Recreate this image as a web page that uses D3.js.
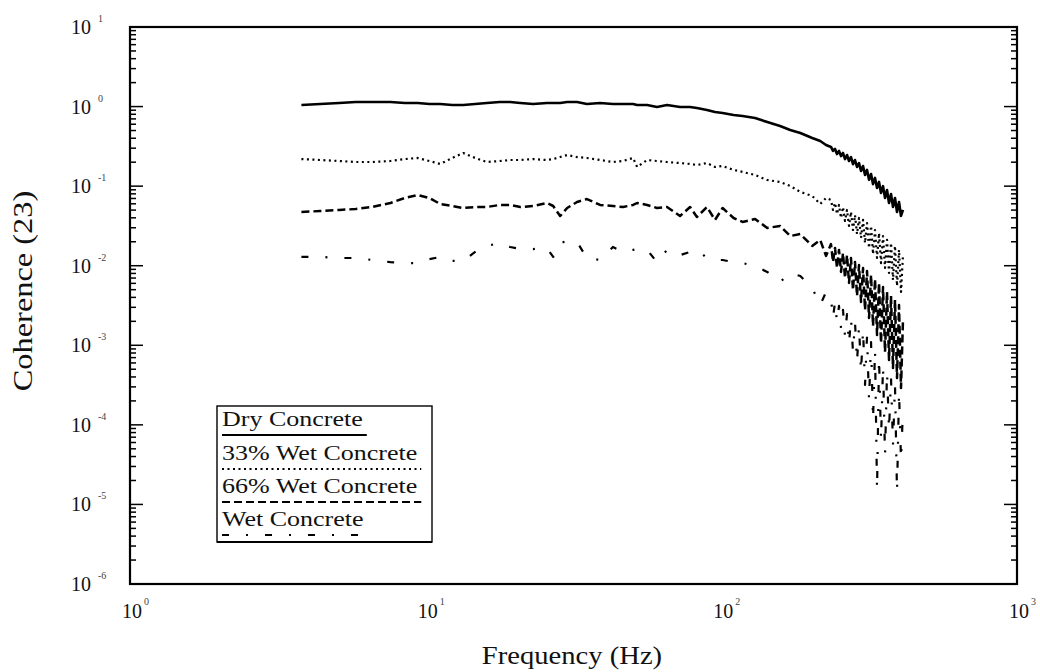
<!DOCTYPE html>
<html>
<head>
<meta charset="utf-8">
<script src="https://cdn.jsdelivr.net/npm/d3@7"></script>
<style>
  body { margin: 0; background: #fff; }
  svg { display: block; }
  text { font-family: "Liberation Serif", "DejaVu Serif", serif; fill: #111; }
</style>
</head>
<body>
<svg id="chart" width="1040" height="672"></svg>
<script>
// frequency (Hz) shared by all four curves
var freq = [3.8, 4.4, 5.1, 5.8, 6.6, 7.6, 8.5, 9.4, 10.3, 11.2, 12.3, 13.4, 14.7, 16.1, 17.8,
  19.3, 20.9, 23.1, 25.7, 27.0, 28.5, 30.1, 32.5, 35.1, 38.9, 43.0, 46.5, 50.3, 51.9, 56.1,
  60.6, 65.5, 72.5, 78.4, 82.7, 89.4, 95.2, 101, 110, 118, 130, 143, 158, 171, 185, 203, 216,
  226,
  // noisy tail
  234.9, 238.6, 242.4, 246.1, 250.0, 254.0, 257.9, 262.0, 266.1, 270.3, 274.5, 278.8, 283.2,
  287.7, 292.2, 296.8, 301.5, 306.2, 311.0, 315.9, 320.9, 325.9, 331.0, 336.2, 341.5, 346.8,
  352.3, 357.8, 363.4, 369.1, 374.9, 380.7, 386.7, 392.8, 399.0, 405.2, 411.5];

var dryConcrete = [1.047, 1.077, 1.109, 1.142, 1.142, 1.142, 1.109, 1.109, 1.077, 1.077,
  1.047, 1.047, 1.077, 1.109, 1.142, 1.142, 1.109, 1.077, 1.109, 1.109, 1.109, 1.142, 1.142,
  1.077, 1.109, 1.077, 1.077, 1.077, 1.047, 1.047, 0.988, 1.047, 0.988, 0.988, 0.960, 0.906,
  0.855, 0.830, 0.784, 0.761, 0.718, 0.640, 0.570, 0.508, 0.465, 0.403, 0.369, 0.329,
  0.311, 0.277, 0.293, 0.253, 0.277, 0.239, 0.261, 0.219, 0.246, 0.207, 0.232, 0.189, 0.213,
  0.174, 0.195, 0.155, 0.179, 0.138, 0.160, 0.120, 0.142, 0.106, 0.127, 0.0948, 0.113, 0.0820,
  0.100, 0.0710, 0.0895, 0.0615, 0.0797, 0.0547, 0.0710, 0.0474, 0.0632, 0.0422, 0.0502];

var wet33 = [0.219, 0.213, 0.207, 0.201, 0.201, 0.207, 0.219, 0.226, 0.207, 0.190, 0.226,
  0.261, 0.226, 0.201, 0.207, 0.213, 0.213, 0.219, 0.213, 0.219, 0.232, 0.246, 0.232, 0.226,
  0.213, 0.201, 0.207, 0.226, 0.174, 0.213, 0.207, 0.201, 0.195, 0.190, 0.184, 0.195, 0.174,
  0.179, 0.160, 0.151, 0.138, 0.1195, 0.1128, 0.1005, 0.0845, 0.0752, 0.0596, 0.0710,
  0.0670, 0.0502, 0.0615, 0.0447, 0.0580, 0.0398, 0.0547, 0.0365, 0.0502, 0.0316, 0.0474,
  0.0281, 0.0434, 0.0250, 0.0398, 0.0224, 0.0376, 0.0193, 0.0344, 0.0167, 0.0316, 0.0140,
  0.0281, 0.0125, 0.0257, 0.0108, 0.0236, 0.00937, 0.0211, 0.00811, 0.0193, 0.00662, 0.0177,
  0.00557, 0.0158, 0.00468, 0.0136];

var wet66 = [0.0473, 0.0487, 0.0502, 0.0516, 0.0547, 0.0614, 0.0710, 0.0774, 0.0710, 0.0596,
  0.0563, 0.0531, 0.0547, 0.0547, 0.0580, 0.0580, 0.0547, 0.0563, 0.0614, 0.0563, 0.0421,
  0.0531, 0.0632, 0.0689, 0.0580, 0.0563, 0.0547, 0.0580, 0.0614, 0.0580, 0.0531, 0.0547,
  0.0421, 0.0547, 0.0410, 0.0547, 0.0376, 0.0531, 0.0398, 0.0355, 0.0387, 0.0298, 0.0316,
  0.0236, 0.0250, 0.0177, 0.0211, 0.0133,
  0.0187, 0.0111, 0.0167, 0.00937, 0.0158, 0.00834, 0.0144, 0.00701, 0.0136, 0.00607, 0.0125,
  0.00496, 0.0111, 0.00417, 0.0102, 0.00350, 0.00937, 0.00278, 0.00859, 0.00220, 0.00765,
  0.00175, 0.00681, 0.00135, 0.00607, 0.00107, 0.00541, 0.000824, 0.00468, 0.000654, 0.00417,
  0.000518, 0.00371, 0.000388, 0.00321, 0.000290, 0.00208];

var wetConcrete = [0.0129, 0.0129, 0.0125, 0.0125, 0.0118, 0.0111, 0.0108, 0.0108, 0.0121,
  0.0129, 0.0115, 0.0115, 0.0149, 0.0177, 0.0193, 0.0172, 0.0162, 0.0162, 0.0167, 0.0129,
  0.0193, 0.0204, 0.0199, 0.0125, 0.0118, 0.0172, 0.0149, 0.0158, 0.0162, 0.0158, 0.0111,
  0.0158, 0.0136, 0.0149, 0.0158, 0.0125, 0.0118, 0.0118, 0.0111, 0.0108, 0.00992, 0.00834,
  0.00624, 0.0081, 0.00742, 0.00525, 0.00321, 0.00467,
  0.00393, 0.00220, 0.00350, 0.00196, 0.00312, 0.00165, 0.00278, 0.00131, 0.00247, 0.00104,
  0.00220, 0.000824, 0.00196, 0.000617, 0.00175, 0.000462, 0.00156, 0.000317, 0.00131,
  0.000205, 0.00110, 0.000115, 0.000873, 0.0000152, 0.000693, 0.0000645, 0.000550, 0.0000418,
  0.000462, 0.0000862, 0.000388, 0.0000558, 0.000317, 0.0000143, 0.000259, 0.0000362,
  0.000154];

var seriesNames = ["Dry Concrete", "33% Wet Concrete", "66% Wet Concrete", "Wet Concrete"];
var xTickValues = [1, 10, 100, 1000];
var xTickExp = ["0", "1", "2", "3"];
var yTickValues = [10, 1, 0.1, 0.01, 0.001, 0.0001, 0.00001, 0.000001];
var yTickExp = ["1", "0", "-1", "-2", "-3", "-4", "-5", "-6"];

var W = 1040, H = 672;
var margin = {top: 27, right: 23, bottom: 88, left: 130};

var svg = d3.select("#chart");

var x = d3.scaleLog().domain([1, 1000]).range([margin.left, W - margin.right]);
var y = d3.scaleLog().domain([1e-6, 10]).range([H - margin.bottom, margin.top]);

// line styles, one per series
var styles = [
  {dash: null, width: 2.6},
  {dash: "2,3.5", width: 2.2},
  {dash: "8,4", width: 2.5},
  {dash: "7,17,2,17", width: 2.2}
];
var allSeries = [dryConcrete, wet33, wet66, wetConcrete];

var line = d3.line()
  .x(function(d, i) { return x(freq[i]); })
  .y(function(d) { return y(d); });

allSeries.forEach(function(vals, k) {
  svg.append("path")
    .attr("fill", "none")
    .attr("stroke", "#000")
    .attr("stroke-width", styles[k].width)
    .attr("stroke-dasharray", styles[k].dash)
    .attr("stroke-linejoin", "round")
    .attr("d", line(vals));
});

// frame
svg.append("rect")
  .attr("x", x.range()[0])
  .attr("y", y.range()[1])
  .attr("width", x.range()[1] - x.range()[0])
  .attr("height", y.range()[0] - y.range()[1])
  .attr("fill", "none")
  .attr("stroke", "#000")
  .attr("stroke-width", 2.2);

// y ticks on both sides, pointing in
y.ticks().forEach(function(t) {
  var major = Math.abs(Math.log10(t) - Math.round(Math.log10(t))) < 1e-6;
  var len = major ? 13 : 6;
  var yy = y(t);
  svg.append("line").attr("x1", x.range()[0]).attr("x2", x.range()[0] + len)
    .attr("y1", yy).attr("y2", yy).attr("stroke", "#000").attr("stroke-width", 1.5);
  svg.append("line").attr("x1", x.range()[1]).attr("x2", x.range()[1] - len)
    .attr("y1", yy).attr("y2", yy).attr("stroke", "#000").attr("stroke-width", 1.5);
});

// y tick labels
yTickValues.forEach(function(t, i) {
  var yy = y(t);
  svg.append("text").attr("x", 91).attr("y", yy + 7)
    .attr("text-anchor", "end").style("font-size", "20px").text("10");
  svg.append("text").attr("x", 98).attr("y", yy - 5)
    .style("font-size", "10px").style("fill", "#444").text(yTickExp[i]);
});

// x tick labels
xTickValues.forEach(function(t, i) {
  var xx = x(t);
  svg.append("text").attr("x", xx + 2).attr("y", 618)
    .attr("text-anchor", "middle").style("font-size", "20px").text("10");
  svg.append("text").attr("x", xx + 14).attr("y", 605)
    .style("font-size", "10px").style("fill", "#444").text(xTickExp[i]);
});

// stretch text horizontally like the scanned original
function stretched(sel, factor) {
  var n = sel.node().getComputedTextLength();
  sel.attr("textLength", n * factor).attr("lengthAdjust", "spacingAndGlyphs");
  return n * factor;
}

// axis titles
var xt = svg.append("text").attr("x", 572).attr("y", 664)
  .attr("text-anchor", "middle").style("font-size", "26px").text("Frequency (Hz)");
stretched(xt, 1.1);

var yt = svg.append("text")
  .attr("transform", "translate(32,291) rotate(-90)")
  .attr("text-anchor", "middle").style("font-size", "27px").text("Coherence (23)");
stretched(yt, 1.2);

// legend
var lg = svg.append("g");
lg.append("rect").attr("x", 217).attr("y", 406).attr("width", 215).attr("height", 136)
  .attr("fill", "#fff").attr("stroke", "#000").attr("stroke-width", 1.4);
lg.append("line").attr("x1", 217).attr("x2", 432).attr("y1", 542).attr("y2", 542)
  .attr("stroke", "#000").attr("stroke-width", 2.2);

var rowTop = [406, 440, 473, 506];
seriesNames.forEach(function(name, k) {
  var t = lg.append("text").attr("x", 222).attr("y", rowTop[k] + 20)
    .style("font-size", "20px").text(name);
  var w = stretched(t, 1.3);
  lg.append("line")
    .attr("x1", 222).attr("x2", 222 + w + 4)
    .attr("y1", rowTop[k] + 29).attr("y2", rowTop[k] + 29)
    .attr("stroke", "#000")
    .attr("stroke-width", k === 0 ? 2.2 : 2)
    .attr("stroke-dasharray", styles[k].dash);
});
</script>
</body>
</html>
